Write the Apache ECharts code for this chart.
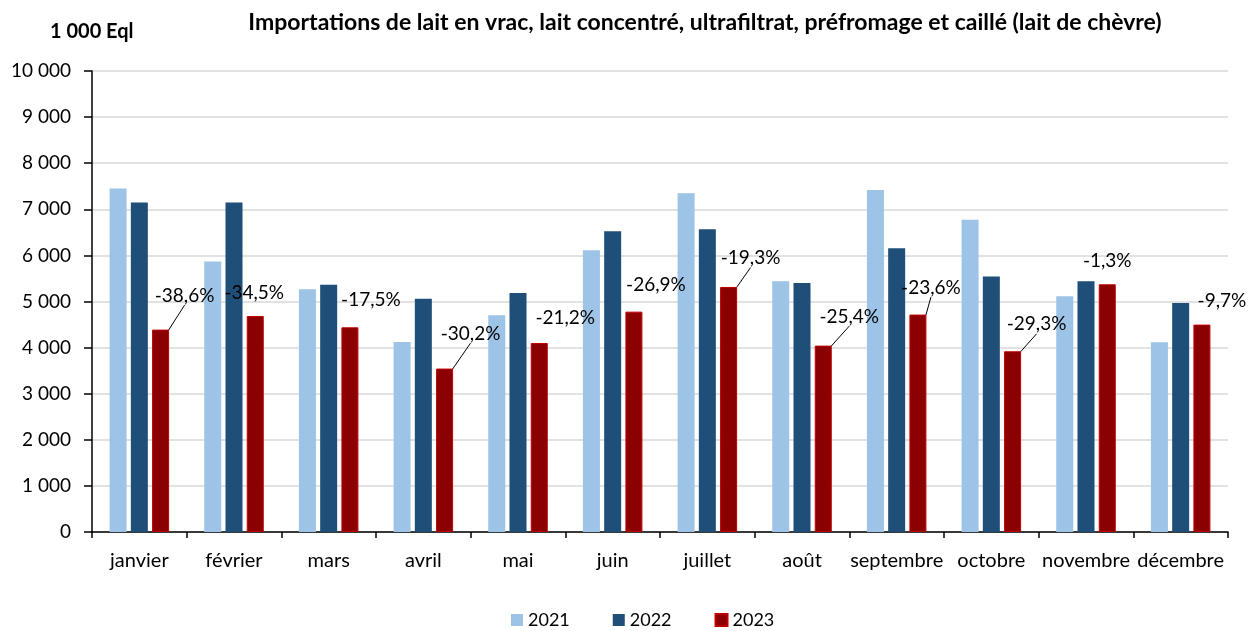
<!DOCTYPE html>
<html>
<head>
<meta charset="utf-8">
<script src="https://cdn.jsdelivr.net/npm/echarts@6/dist/echarts.min.js"></script>
<style>
  html, body { margin: 0; padding: 0; background: #fff; }
  #chart { width: 1249px; height: 631px; }
</style>
</head>
<body>
<div id="chart"></div>
<script>
// donnees (1 000 Eql)
var mois = ["janvier", "février", "mars", "avril", "mai", "juin", "juillet", "août", "septembre", "octobre", "novembre", "décembre"];
var v2021 = [7450, 5870, 5265, 4120, 4700, 6110, 7347, 5438, 7419, 6776, 5113, 4115];
var v2022 = [7150, 7145, 5365, 5060, 5185, 6523, 6566, 5402, 6154, 5540, 5438, 4967];
var v2023 = [4390, 4685, 4440, 3545, 4100, 4780, 5315, 4043, 4716, 3920, 5373, 4499];
var variations = ["-38,6%", "-34,5%", "-17,5%", "-30,2%", "-21,2%", "-26,9%", "-19,3%", "-25,4%", "-23,6%", "-29,3%", "-1,3%", "-9,7%"];

// placement des etiquettes (decalage depuis le haut de la barre 2023)
var lblDx = [24, -1, 21, 26, 26, 22, 22, 26, 13, 24, 0, 20];
var lblDy = [-34, -23, -27, -35, -25, -27, -29, -29, -27, -27, -23, -24];
var lblLine = [true, false, false, true, false, false, true, true, true, true, false, false];

var color = ["#9dc3e6", "#1f4e79", "#8b0000", "#c00000", "#d9d9d9"];

var myChart = echarts.init(document.getElementById("chart"));

var option = {
  backgroundColor: "#fff",
  animation: false,
  textStyle: { fontFamily: "Lato, 'Open Sans', sans-serif", color: "#000" },
  title: [
    {
      text: "Importations de lait en vrac, lait concentré, ultrafiltrat, préfromage et caillé (lait de chèvre)",
      left: 700,
      top: 6,
      textAlign: "center",
      textStyle: { fontSize: 23, fontWeight: "bold", color: "#000", fontFamily: "Lato, sans-serif" }
    },
    {
      text: "1 000 Eql",
      left: 45,
      top: 17,
      textStyle: { fontSize: 20, fontWeight: "bold", color: "#000", fontFamily: "Lato, sans-serif" }
    }
  ],
  legend: {
    bottom: -3,
    left: 506,
    itemWidth: 12,
    itemHeight: 12,
    itemGap: 43,
    icon: "rect",
    textStyle: { fontSize: 18, color: "#000" },
    data: ["2021", "2022", "2023"]
  },
  grid: { left: 92, right: 21, top: 71, bottom: 99 },
  xAxis: {
    type: "category",
    data: mois,
    axisLine: { lineStyle: { color: "#000", width: 1.5 } },
    axisTick: { show: true, length: 6, lineStyle: { color: "#000", width: 1.5 } },
    axisLabel: { fontSize: 20, color: "#000", margin: 19, interval: 0 }
  },
  yAxis: {
    type: "value",
    min: 0,
    max: 10000,
    interval: 1000,
    axisLine: { show: true, lineStyle: { color: "#000", width: 1.5 } },
    axisTick: { show: true, length: 8, lineStyle: { color: "#000", width: 1.5 } },
    axisLabel: {
      fontSize: 19,
      color: "#000",
      margin: 21,
      formatter: function (v) {
        return String(v).replace(/\B(?=(\d{3})+(?!\d))/g, " ");
      }
    },
    splitLine: { lineStyle: { color: color[4], width: 1.5 } }
  },
  series: [
    {
      name: "2021",
      type: "bar",
      data: v2021,
      barWidth: 17,
      barGap: "25%",
      itemStyle: { color: color[0] }
    },
    {
      name: "2022",
      type: "bar",
      data: v2022,
      barWidth: 17,
      barGap: "25%",
      itemStyle: { color: color[1] }
    },
    {
      name: "2023",
      type: "bar",
      barWidth: 17,
      barGap: "25%",
      itemStyle: { color: color[2], borderColor: color[3], borderWidth: 1 },
      data: v2023.map(function (v, i) {
        return {
          value: v,
          labelLine: { show: lblLine[i], lineStyle: { color: "#000", width: 1 } }
        };
      }),
      label: {
        show: true,
        position: "top",
        fontSize: 19,
        color: "#000",
        formatter: function (p) {
          return variations[p.dataIndex];
        }
      },
      labelLine: { show: false, smooth: false, length2: 0 },
      labelLayout: function (p) {
        var i = p.dataIndex;
        return {
          x: p.rect.x + p.rect.width / 2 + lblDx[i],
          y: p.rect.y + lblDy[i],
          align: "center",
          verticalAlign: "middle"
        };
      }
    }
  ]
};

myChart.setOption(option, true);
</script>
</body>
</html>
